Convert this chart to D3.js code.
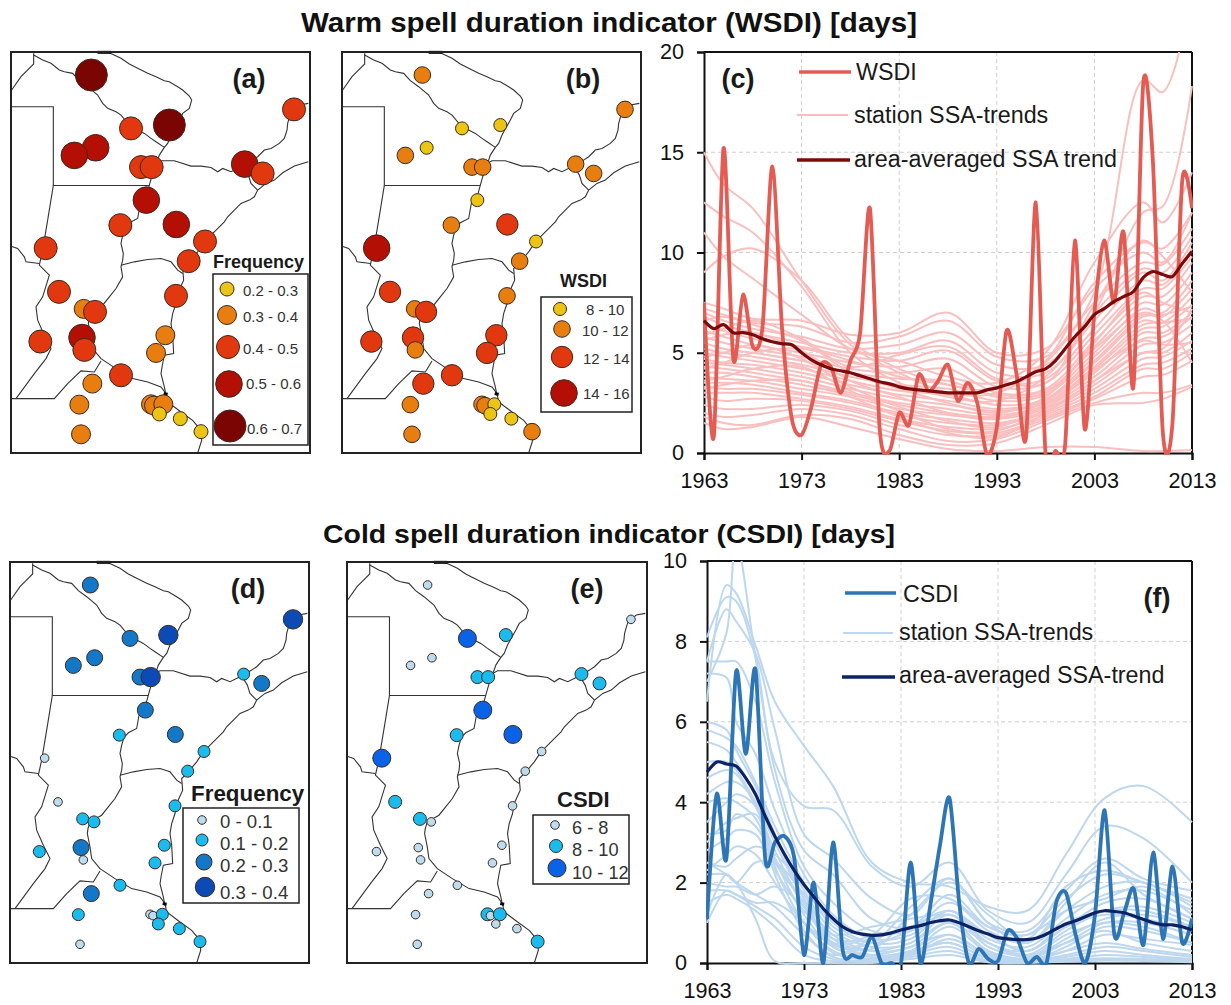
<!DOCTYPE html>
<html lang="en">
<head>
  <meta charset="UTF-8">
  <title>WSDI and CSDI</title>
  <script src="https://d3js.org/d3.v7.min.js"></script>
  <style>
    body { margin: 0; background: #fff; }
    text { font-family: "Liberation Sans", Arial, sans-serif; }
  </style>
</head>
<body>
  <svg id="chart" width="1231" height="1005"></svg>

  <script>
    // station positions (map units)
    const mapX = [271,390,505,879,284,220,420,452,731,785,436,358,526,612,563,134,174,525,248,282,493,118,243,250,465,360,274,235,240,450,459,487,475,538,600];
    const mapY = [105,265,255,208,323,346,381,381,372,400,480,555,553,604,663,624,755,767,806,815,885,904,892,929,938,1005,1030,1093,1182,1092,1096,1092,1121,1135,1174];

    // class index of each station in each map
    const freqWarmClass = [4,2,4,2,3,3,2,2,3,2,3,2,3,2,2,2,2,2,1,2,1,2,3,2,1,2,1,1,1,1,1,1,0,0,0];
    const wsdiClass     = [1,0,0,1,0,1,1,1,1,1,0,1,2,0,1,3,2,1,1,2,2,2,2,1,2,2,2,1,1,1,1,0,0,0,1];
    const freqColdClass = [2,2,3,3,2,2,2,3,1,2,2,1,2,1,1,0,0,1,1,1,1,1,2,0,1,1,2,1,0,0,0,1,1,1,1];
    const csdiClass     = [0,2,1,0,0,0,1,1,1,1,2,1,2,0,0,2,1,0,1,0,0,0,0,0,0,0,0,0,0,1,0,1,0,0,1];

    // legend labels and colours
    const freqWarmLabels = ["0.2 - 0.3", "0.3 - 0.4", "0.4 - 0.5", "0.5 - 0.6", "0.6 - 0.7"];
    const freqWarmColors = ["#ecc414", "#e87d10", "#e2380f", "#b30f05", "#7a0503"];
    const wsdiLabels = ["8 - 10", "10 - 12", "12 - 14", "14 - 16"];
    const wsdiColors = ["#ecc414", "#e87d10", "#e2380f", "#b30f05"];
    const freqColdLabels = ["0 - 0.1", "0.1 - 0.2", "0.2 - 0.3", "0.3 - 0.4"];
    const freqColdColors = ["#bcdcef", "#1abcef", "#1478c8", "#0c4ab5"];
    const csdiLabels = ["6 - 8", "8 - 10", "10 - 12"];
    const csdiColors = ["#bcdcef", "#1abcef", "#0a63e6"];

    // borders and rivers (map units)
    const borders = [
      [[98,40],[98,72],[78,92],[60,110],[32,150]],
      [[98,45],[125,60],[150,70],[175,90],[190,95],[215,100],[235,122],[260,140],[290,165],[305,190],[320,205],[345,215],[360,225],[385,255],[410,270],[430,280],[450,295],[465,305],[490,322]],
      [[320,36],[360,55],[385,72],[410,85],[440,100],[465,110],[490,122],[505,125],[530,140],[545,150],[565,168],[572,180],[565,205],[545,220],[535,240],[510,285],[500,310],[490,322],[475,345],[470,360],[458,385],[455,400],[445,435],[437,465],[418,490],[410,535],[385,548],[372,562],[365,585],[360,610],[367,640],[365,660],[360,680],[365,710],[345,745],[325,770],[305,795],[270,815],[264,835],[262,850],[270,890],[275,925],[300,955],[345,985],[395,1015],[440,1025],[480,1040],[495,1060]],
      [[452,378],[480,362],[520,362],[570,378],[600,378],[630,382],[650,395],[665,385],[690,395],[720,380],[730,375],[755,360],[770,350],[790,330],[810,325],[835,310],[850,295],[858,270],[860,250],[870,215],[895,195],[922,190]],
      [[730,385],[742,405],[750,430],[770,450]],
      [[922,365],[880,378],[845,398],[820,420],[795,430],[770,450],[760,470],[745,480],[720,490],[700,510],[680,530],[670,545],[640,575],[610,605],[590,635],[565,665],[545,685],[548,720],[530,760],[525,790],[515,820],[510,850],[515,885],[518,940],[490,945],[484,975],[480,1000],[490,1040],[495,1065]],
      [[360,675],[400,665],[440,658],[480,655],[510,665],[530,690],[545,700]],
      [[30,200],[157,200],[157,436],[445,436]],
      [[157,436],[140,540],[125,630],[115,675],[145,705],[125,770],[105,800],[110,840],[130,885],[150,925],[135,955],[100,1000],[45,1075]],
      [[30,618],[50,625],[70,650],[75,665],[115,670]],
      [[30,1075],[160,1075],[200,1030],[240,992],[280,995],[300,962]],
      [[495,1060],[500,1085],[540,1115],[575,1140],[600,1170],[602,1200],[590,1238]]
    ];
    const riverMouth = [[488,1060],[500,1062]];
    const capTop = [[290,37],[330,37]];

    // yearly series
    const years = d3.range(1963, 2014);
    const wsdi = [7.5,0.8,15.2,4.7,7.9,5.3,6.3,14.3,6.2,1.7,0.9,2.3,4.4,4.3,3.0,4.6,6.0,12.2,1.2,0.1,2.0,1.4,3.9,3.1,3.6,4.4,2.6,3.5,2.5,-0.1,1.3,6.1,4.0,0.8,12.5,-0.1,0.1,0.4,10.6,1.2,7.0,10.6,7.5,11.0,3.3,18.4,14.5,1.1,1.5,13.6,12.2];
    const wsdiTrend = [6.6,6.2,6.4,6.0,6.0,5.9,5.7,5.55,5.45,5.4,5.0,4.65,4.4,4.2,4.1,4.0,3.85,3.7,3.55,3.45,3.3,3.2,3.15,3.1,3.05,3.0,3.0,3.0,3.0,3.15,3.25,3.4,3.55,3.8,4.05,4.2,4.6,5.2,5.8,6.3,6.9,7.2,7.55,7.8,8.05,8.75,9.05,8.9,8.8,9.45,10.05];
    const csdi = [1.1,4.2,2.6,7.25,5.2,7.3,2.6,3.0,3.15,2.6,0.2,2.0,0,3.0,0.3,0.2,0.15,0.65,0,0,0,2.5,0,1.4,2.9,4.1,1.5,0,0.35,0.1,0.05,0.8,0.6,0,0.15,0,1.5,1.75,0.7,0,1.2,3.8,0.7,1.25,1.85,0.45,2.75,0.6,2.4,0.5,1.1];
    const csdiTrend = [4.75,5.0,4.95,4.9,4.6,4.2,3.65,3.15,2.7,2.3,1.95,1.65,1.35,1.1,0.9,0.78,0.72,0.69,0.7,0.75,0.82,0.88,0.93,1.0,1.05,1.07,1.0,0.9,0.8,0.72,0.63,0.6,0.58,0.58,0.62,0.72,0.85,0.97,1.05,1.15,1.25,1.3,1.28,1.25,1.17,1.08,1.0,0.95,0.95,0.9,0.82];

    // station trends in (c), read at these years
    const warmKnotYears = [1963,1965,1968,1973,1978,1983,1988,1993,1998,2003,2008,2010,2013];
    const warmStations = [
      [15,13.4,12.2,8.6,5.4,4,3,3,4.5,8,18.6,18,23],
      [12.5,11.8,11,8.3,5,3.5,2.8,2.6,3.8,7,12,12.3,18.3],
      [11,9.8,8.7,6.9,5.2,4.6,3.8,3.5,5,9.5,12.5,11.5,14],
      [9,9.8,10.2,8.6,5.6,4.2,3.4,3.2,4.6,8.5,10.5,10.2,12],
      [7.5,7.2,6.7,6.6,5.9,6,7,5,5.2,8.2,10,9.5,12],
      [7.2,6.9,6.5,6.3,5.5,5.8,6.6,4.8,4.8,7.5,9.5,9.4,11.2],
      [7,6.6,6.2,5.8,5.2,5.4,6,4.4,4.4,7,9.2,9,10.8],
      [6.8,6.4,6,5.5,5,5,5.6,4,4,6.6,9,8.6,10.5],
      [6.4,6.1,5.7,5.3,4.8,4.6,5.1,3.6,3.7,6.2,8.6,8.4,10.2],
      [6.1,5.8,5.4,5,4.5,4.3,4.7,3.3,3.5,5.9,8.2,8.2,9.8],
      [5.8,5.5,5.2,4.8,4.2,4,4.2,3,3.2,5.6,7.8,7.8,9.5],
      [5.5,5.2,5,4.6,4,3.7,3.6,2.8,3,5.3,7.5,7.4,9],
      [5.2,5,4.8,4.4,3.8,3.4,3.2,2.6,2.9,5,7.2,7,8.6],
      [5,4.8,4.6,4.2,3.6,3.1,2.9,2.4,2.7,4.8,6.9,6.8,8.2],
      [4.7,4.5,4.4,4,3.4,2.9,2.6,2.2,2.6,4.5,6.6,6.5,7.8],
      [4.5,4.4,4.2,3.8,3.2,2.7,2.4,2.1,2.5,4.2,6.2,6.3,7.4],
      [4.3,4.2,4,3.6,3,2.5,2.2,1.9,2.4,4,6,6,7],
      [4,4,3.8,3.4,2.9,2.4,2,1.8,2.3,3.8,5.7,5.8,6.8],
      [3.8,3.7,3.6,3.2,2.8,2.2,1.9,1.7,2.2,3.6,5.4,5.5,6.4],
      [3.5,3.5,3.4,3,2.6,2,1.7,1.5,2.1,3.4,5,5,6],
      [3.3,3.2,3.2,2.9,2.5,1.9,1.5,1.4,2,3.2,4.7,4.8,5.6],
      [3,3,3,2.7,2.3,1.7,1.3,1.2,1.9,3,4.4,4.5,5.2],
      [2.8,2.6,2.7,2.6,2.2,1.6,1.1,1,1.8,2.8,4.2,4.2,5],
      [2.4,2.2,2.2,2.4,2.1,1.4,0.9,0.9,1.7,2.7,3.8,3.9,4.6],
      [2,1.8,1.9,2.2,1.9,1.2,0.6,0.7,1.6,2.5,3,3,3.4],
      [1.8,1.5,1.4,1.9,1.7,0.9,0.4,0.5,1.4,2.4,2.5,2.7,3.3],
      [1.5,1.2,1.3,1.8,1.3,0.7,0.2,0.1,0.3,0.3,0.1,0.1,0.15],
      [5.9,6.2,6.6,5.7,4.3,4.9,5.3,3.7,3.5,7.4,10.6,9.8,8],
      [4.2,4.5,5,5.2,4.6,3.8,3.4,2.9,3.1,5.2,7,6.6,4.5],
      [6.6,6.8,6.4,5.6,4,3.2,2.5,2,2.8,5.5,8,7.5,7],
      [5.6,5.9,6,5.1,3.6,2.8,2,1.7,2.6,4.6,6.8,6.9,7.3],
      [4.8,5,5.4,4.7,3.3,2.3,1.6,1.3,2.4,4.3,6.4,6.5,6.7],
      [3.6,3.8,4.2,4.3,3.1,2.1,1.2,1.1,2.2,4.1,5.6,5.4,5.5],
      [3.2,3.4,3.6,3.6,2.8,1.8,1,0.8,2,3.6,5,5.2,7.2]
    ];

    // station trends in (f), read at these years
    const coldKnotYears = [1963,1965,1966,1968,1970,1973,1976,1980,1984,1988,1992,1996,2000,2004,2008,2013];
    const coldStations = [
      [6.5,9.4,9.2,7.9,6.5,5.4,4.4,2.5,2,1.9,1.4,1.3,2.7,4.1,4.4,3.5],
      [8.1,9.1,9,7.6,5,3.9,3.8,2.4,1.9,2.5,1.3,1,2.2,3.4,3.1,2],
      [7.5,8.8,8.5,7.7,5.8,3.2,2.6,1.6,1.2,2.1,1,0.8,1.8,2.6,2.1,1.8],
      [7,8.2,10.5,7.6,4.8,2.8,2.2,1.1,0.9,1.7,0.9,0.7,1.6,2.2,2,1.5],
      [7.5,7.5,7.5,6.5,4.5,2.4,1.5,0.8,0.8,1.5,0.8,0.5,1.3,1.9,2,1.4],
      [7.2,7.1,6,5.2,3.8,2.2,1.2,0.6,0.7,1.3,0.6,0.4,1.1,1.7,1.8,1.3],
      [5.8,5.6,5.4,4.5,3.4,2,1,0.5,0.6,1.3,0.5,0.3,0.9,1.5,1.6,1.1],
      [5.5,5.3,5,4.2,3.2,1.8,0.8,0.4,0.5,1.2,0.4,0.2,0.8,1.3,1.4,1],
      [5,5,4.8,4,3,1.6,0.7,0.3,0.4,1,0.3,0.1,0.6,1.1,1.2,0.9],
      [4.6,4.8,4.7,3.9,2.8,1.4,0.5,0.2,0.3,0.9,0.25,0.1,0.5,1,1,0.7],
      [4.2,4.5,4.5,4,2.6,1.2,0.4,0.15,0.25,0.7,0.2,0.05,0.4,0.9,0.8,0.5],
      [3.5,4,4.2,3.9,2.4,1,0.3,0.1,0.2,0.6,0.15,0.05,0.3,0.7,0.6,0.45],
      [3,3.5,3.6,3.7,2.2,0.8,0.2,0.6,0.9,1.3,0.7,0.3,0.9,1.2,1.1,0.8],
      [2.5,2.4,2.6,2.9,2.7,1.9,0.9,0.5,0.8,1.2,0.5,0.2,0.5,0.8,0.5,0.3],
      [2.2,2.2,2,2.5,2.5,1.7,0.6,0.3,0.5,1,0.3,0.1,0.3,0.5,0.35,0.2],
      [2,1.9,1.9,1.7,1.9,1.4,0.4,0.2,0.4,0.7,0.2,0.05,0.2,0.4,0.3,0.15],
      [1.8,1.8,1.7,1.5,1.5,1,0.25,0.1,0.25,0.5,0.1,0.02,0.15,0.3,0.2,0.1],
      [1.2,2.2,2,1.7,1.4,0.7,0.15,0.05,0.2,0.4,0.05,0.02,0.1,0.2,0.15,0.08],
      [1,1.8,1.7,1.4,1.1,0.4,0.1,0.03,0.15,0.3,0.03,0.01,0.08,0.12,0.1,0.05],
      [2.5,2.2,2,1.1,0.05,0,0,0,0.1,0.2,0.02,0,0.05,0.1,0.08,0.03],
      [6,5.8,5.3,4.4,3.2,1.6,0.5,0.35,1.2,2,1.2,0.6,1.9,2.3,2,1.6],
      [4,4.1,4,3.6,2.5,1.5,0.45,0.5,1.4,2.1,1,0.5,1.5,2.5,1.7,1.1],
      [3.2,3.3,3.7,3.4,2.6,1.5,0.6,0.7,1.6,1.6,0.9,0.7,1.3,1.6,1.9,1.2],
      [2.8,3.1,3.3,3.2,2.3,1.3,0.7,0.9,1.1,1.2,0.7,0.3,1,1.3,1.3,0.9],
      [2.3,2.7,2.9,2.7,2,1,0.5,0.6,0.9,1,0.5,0.15,0.7,1,0.9,0.5],
      [1.5,1.7,1.6,1.3,0.9,0.2,0.05,0.1,0.3,0.5,0.1,0.02,0.03,0.06,0.05,0.02]
    ];

    const xTicks = [1963, 1973, 1983, 1993, 2003, 2013];
    const wsdiTicks = [0, 5, 10, 15, 20];
    const csdiTicks = [0, 2, 4, 6, 8, 10];

    const svg = d3.select("#chart");
    const textColor = "#222";

    function addText(x, y, str, size, bold, anchor, fill) {
      return svg.append("text")
        .attr("x", x).attr("y", y)
        .attr("text-anchor", anchor || "start")
        .style("font-size", size + "px")
        .style("font-weight", bold ? "bold" : "normal")
        .style("fill", fill || textColor)
        .text(str);
    }

    // Titles are stretched a little wider than the font in the original
    addText(609, 32, "Warm spell duration indicator (WSDI) [days]", 27, true, "middle", "#111")
      .attr("textLength", 616).attr("lengthAdjust", "spacingAndGlyphs");
    addText(609, 543, "Cold spell duration indicator (CSDI) [days]", 26.5, true, "middle", "#111")
      .attr("textLength", 572).attr("lengthAdjust", "spacingAndGlyphs");

    // One map panel: frame, borders, stations, legend
    function drawMap(opt) {
      const g = svg.append("g");
      const x = d3.scaleLinear().domain([30, 927]).range([opt.x0, opt.x1]);
      const y = d3.scaleLinear().domain([36, 1238]).range([opt.y0, opt.y1]);
      const line = d3.line().x(d => x(d[0])).y(d => y(d[1]));

      g.selectAll("path.border")
        .data(borders)
        .enter().append("path")
        .attr("class", "border")
        .attr("d", line)
        .style("fill", "none")
        .style("stroke", "#333")
        .style("stroke-width", 1.1);

      g.append("path").attr("d", line(riverMouth))
        .style("stroke", "#000").style("stroke-width", 3);
      g.append("path").attr("d", line(capTop))
        .style("stroke", "#000").style("stroke-width", 3);

      const stations = mapX.map((d, i) => ({ x: d, y: mapY[i], c: opt.classes[i] }));
      g.selectAll("circle.station")
        .data(stations)
        .enter().append("circle")
        .attr("class", "station")
        .attr("cx", d => x(d.x))
        .attr("cy", d => y(d.y))
        .attr("r", d => opt.radii[d.c])
        .style("fill", d => opt.colors[d.c])
        .style("stroke", "#3a2a20")
        .style("stroke-width", 1);

      g.append("rect")
        .attr("x", opt.x0).attr("y", opt.y0)
        .attr("width", opt.x1 - opt.x0).attr("height", opt.y1 - opt.y0)
        .style("fill", "none").style("stroke", "#222").style("stroke-width", 2);

      const lg = opt.legend;
      svg.append("rect")
        .attr("x", lg.box[0]).attr("y", lg.box[1])
        .attr("width", lg.box[2] - lg.box[0]).attr("height", lg.box[3] - lg.box[1])
        .style("fill", "#fff").style("stroke", "#222").style("stroke-width", 1.5);
      addText(lg.titleX, lg.titleY, lg.title, lg.titleSize, true, "start", "#1a1a1a");
      opt.labels.forEach((label, i) => {
        svg.append("circle")
          .attr("cx", lg.mx[i]).attr("cy", lg.my[i]).attr("r", opt.radii[i])
          .style("fill", opt.colors[i]).style("stroke", "#3a2a20").style("stroke-width", 1);
        addText(lg.lx[i], lg.ly[i], label, lg.size, false, "start", "#333");
      });

      addText(opt.tagX, opt.tagY, opt.tag, 27, true, "middle", "#1a1a1a");
    }

    drawMap({
      x0: 11, x1: 310, y0: 52, y1: 453, classes: freqWarmClass, colors: freqWarmColors,
      labels: freqWarmLabels, radii: [7, 9.5, 11.5, 13.3, 16], tag: "(a)", tagX: 249, tagY: 88,
      legend: {
        box: [213, 274, 308, 445], title: "Frequency", titleX: 213, titleY: 268, titleSize: 18, size: 15,
        mx: [227, 227, 228, 229, 230], my: [289, 315, 347, 384, 426],
        lx: [243, 243, 243, 246, 247], ly: [296, 322, 354, 389, 434]
      }
    });
    drawMap({
      x0: 342, x1: 641, y0: 52, y1: 453, classes: wsdiClass, colors: wsdiColors,
      labels: wsdiLabels, radii: [6.5, 8.3, 10.7, 13.3], tag: "(b)", tagX: 583, tagY: 88,
      legend: {
        box: [541, 297, 632, 412], title: "WSDI", titleX: 560, titleY: 287, titleSize: 18, size: 15,
        mx: [560, 562, 562, 564], my: [309, 329, 357, 393],
        lx: [586, 582, 583, 583], ly: [315, 336, 364, 399]
      }
    });
    drawMap({
      x0: 10, x1: 309, y0: 562, y1: 963, classes: freqColdClass, colors: freqColdColors,
      labels: freqColdLabels, radii: [4.3, 6, 8, 9.7], tag: "(d)", tagX: 248, tagY: 598,
      legend: {
        box: [183, 808, 299, 903], title: "Frequency", titleX: 191, titleY: 801, titleSize: 22.4, size: 18.6,
        mx: [202, 202, 204, 205], my: [820, 840, 862, 887],
        lx: [220, 220, 220, 220], ly: [828, 850, 872, 899]
      }
    });
    drawMap({
      x0: 347, x1: 647, y0: 562, y1: 963, classes: csdiClass, colors: csdiColors,
      labels: csdiLabels, radii: [4.3, 6.5, 9], tag: "(e)", tagX: 587, tagY: 598,
      legend: {
        box: [533, 815, 629, 884], title: "CSDI", titleX: 557, titleY: 807, titleSize: 22, size: 18.2,
        mx: [555, 556, 557], my: [825, 846, 868],
        lx: [572, 572, 572], ly: [834, 856, 879]
      }
    });

    // One time series panel
    function drawSeries(opt) {
      const x = d3.scaleLinear().domain([1963, 2013]).range([opt.x0, opt.x1]);
      const y = d3.scaleLinear().domain([0, opt.yMax]).range([opt.y1, opt.y0]);
      const g = svg.append("g");

      const clipId = "clip-" + opt.tag.charAt(1);
      svg.append("clipPath").attr("id", clipId).append("rect")
        .attr("x", opt.x0 - 1).attr("y", opt.y0)
        .attr("width", opt.x1 - opt.x0 + 2).attr("height", opt.y1 - opt.y0 + 2);

      // dashed grid
      g.selectAll("line.gx").data(xTicks.slice(1, -1)).enter().append("line")
        .attr("x1", d => x(d)).attr("x2", d => x(d))
        .attr("y1", opt.y0).attr("y2", opt.y1)
        .style("stroke", "#cfcfcf").style("stroke-dasharray", "4,3");
      g.selectAll("line.gy").data(opt.ticks.slice(1, -1)).enter().append("line")
        .attr("x1", opt.x0).attr("x2", opt.x1)
        .attr("y1", d => y(d)).attr("y2", d => y(d))
        .style("stroke", "#cfcfcf").style("stroke-dasharray", "4,3");

      // axes
      const xAxis = g.append("g")
        .attr("transform", `translate(0,${opt.y1})`)
        .call(d3.axisBottom(x).tickValues(xTicks).tickFormat(d3.format("d")).tickSize(7).tickPadding(13));
      const yAxis = g.append("g")
        .attr("transform", `translate(${opt.x0},0)`)
        .call(d3.axisLeft(y).tickValues(opt.ticks).tickSize(7).tickPadding(13));
      [xAxis, yAxis].forEach(a => {
        a.selectAll("text").style("font-size", "21.6px").style("fill", "#111")
          .style("font-family", '"Liberation Sans", Arial, sans-serif');
        a.selectAll("path,line").style("stroke", "#111").style("stroke-width", 2);
      });

      // top and right of the frame
      g.append("line").attr("x1", opt.x0).attr("x2", opt.x1).attr("y1", opt.y0).attr("y2", opt.y0)
        .style("stroke", "#111").style("stroke-width", 2);
      g.append("line").attr("x1", opt.x1).attr("x2", opt.x1).attr("y1", opt.y0).attr("y2", opt.y1)
        .style("stroke", "#111").style("stroke-width", 2);

      const plot = g.append("g").attr("clip-path", `url(#${clipId})`);
      const paleLine = d3.line().x(d => x(d[0])).y(d => y(d[1])).curve(d3.curveCatmullRom.alpha(0.5));
      const line = d3.line().x(d => x(d[0])).y(d => y(d[1])).curve(d3.curveCardinal.tension(0.15));

      plot.selectAll("path.station")
        .data(opt.stations)
        .enter().append("path")
        .attr("class", "station")
        .attr("d", d => paleLine(d.map((v, i) => [opt.knots[i], v])))
        .style("fill", "none")
        .style("stroke", opt.paleColor)
        .style("stroke-width", 2);

      plot.append("path")
        .attr("d", line(years.map((yr, i) => [yr, opt.values[i]])))
        .style("fill", "none").style("stroke", opt.mainColor).style("stroke-width", 3.8);

      plot.append("path")
        .attr("d", line(years.map((yr, i) => [yr, opt.trend[i]])))
        .style("fill", "none").style("stroke", opt.trendColor).style("stroke-width", 3.2);

      addText(opt.tagX, opt.tagY, opt.tag, 27, true, "middle", "#1a1a1a");

      const keyColors = [opt.mainColor, opt.paleColor, opt.trendColor];
      const keyWidths = [3.4, 2, 3.4];
      opt.key.forEach((k, i) => {
        svg.append("line")
          .attr("x1", k.x1).attr("x2", k.x2).attr("y1", k.y).attr("y2", k.y)
          .style("stroke", keyColors[i]).style("stroke-width", keyWidths[i]);
        addText(k.tx, k.ty, k.label, 23.3, false, "start", "#1a1a1a");
      });
    }

    drawSeries({
      x0: 704, x1: 1192, y0: 52, y1: 453, yMax: 20, ticks: wsdiTicks,
      knots: warmKnotYears, stations: warmStations, values: wsdi, trend: wsdiTrend,
      paleColor: "#f9bfbf", mainColor: "#e35b52", trendColor: "#7d0a0a",
      tag: "(c)", tagX: 738, tagY: 88,
      key: [
        { label: "WSDI", x1: 799, x2: 851, y: 72, tx: 856, ty: 80 },
        { label: "station SSA-trends", x1: 797, x2: 848, y: 115, tx: 854, ty: 123 },
        { label: "area-averaged SSA trend", x1: 797, x2: 850, y: 160, tx: 854, ty: 167 }
      ]
    });
    drawSeries({
      x0: 707, x1: 1192, y0: 561, y1: 963, yMax: 10, ticks: csdiTicks,
      knots: coldKnotYears, stations: coldStations, values: csdi, trend: csdiTrend,
      paleColor: "#bdd7ee", mainColor: "#2e75b6", trendColor: "#0b2265",
      tag: "(f)", tagX: 1157, tagY: 607,
      key: [
        { label: "CSDI", x1: 845, x2: 896, y: 593, tx: 903, ty: 602 },
        { label: "station SSA-trends", x1: 843, x2: 893, y: 633, tx: 899, ty: 640 },
        { label: "area-averaged SSA-trend", x1: 842, x2: 895, y: 677, tx: 899, ty: 683 }
      ]
    });
  </script>
</body>
</html>
